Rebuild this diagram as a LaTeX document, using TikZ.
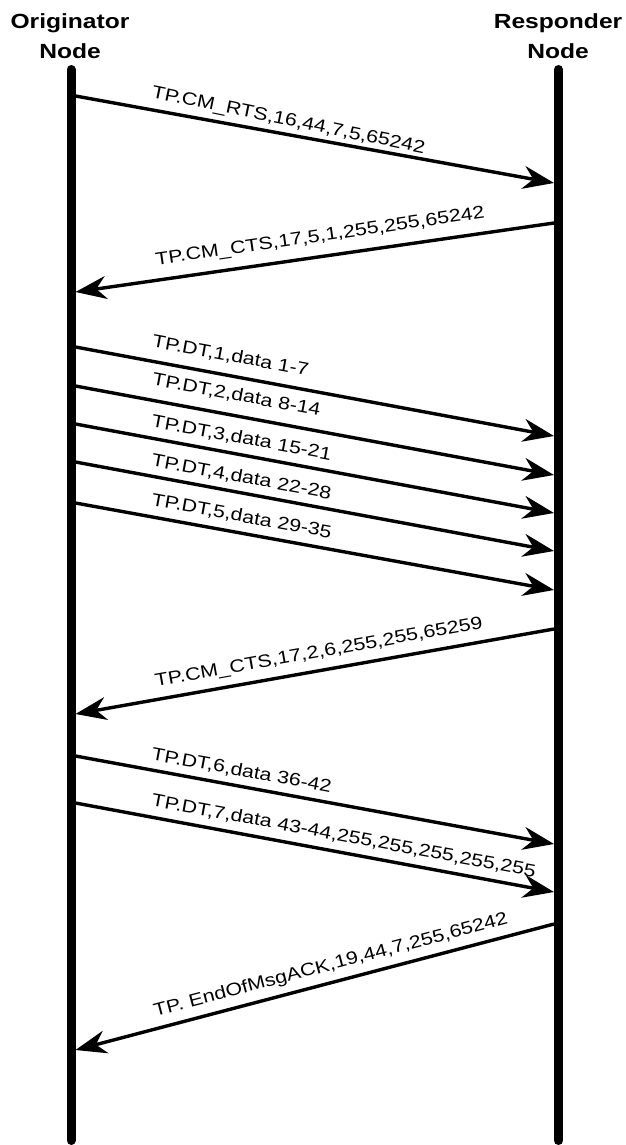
\documentclass[tikz,border=0pt]{standalone}
\usepackage{fontspec}
\setmainfont{Liberation Sans}[FakeStretch=1.2]
\usetikzlibrary{arrows.meta}
\begin{document}
\begin{tikzpicture}[x=1pt,y=-1pt,
  lifeline/.style={line width=9pt, line cap=round},
  msg/.style={line width=3.4pt, -{Stealth[length=31pt,width=23pt,inset=10pt]}},
  lbl/.style={sloped, anchor=base west, inner sep=0pt, yshift=12pt, font=\fontsize{17.8}{21}\selectfont},
  rlbl/.style={lbl, pos=0.15},
  llbl/.style={lbl, pos=0.83},
  title/.style={font=\bfseries\fontsize{20.5}{30}\selectfont, align=center, anchor=north, inner sep=0pt}]
\useasboundingbox (0,0) rectangle (626,1145);
% titles
\node[title] (orig) at (70,13) {Originator\\Node};
\node[title] (resp) at (558,13) {Responder\\Node};
% lifelines
\coordinate (Ltop) at (71,69.5);
\coordinate (Lbot) at (71,1140.5);
\coordinate (Rtop) at (558.5,69.5);
\coordinate (Rbot) at (558.5,1140.5);
\draw[lifeline] (Ltop) -- (Lbot);
\draw[lifeline] (Rtop) -- (Rbot);
% message end points
\coordinate (L1) at (75.5,96);   \coordinate (R1) at (554,183);
\coordinate (R2) at (554,223);   \coordinate (L2) at (75.5,292);
\coordinate (L3) at (75.5,347);  \coordinate (R3) at (554,436);
\coordinate (L4) at (75.5,386);  \coordinate (R4) at (554,475);
\coordinate (L5) at (75.5,424);  \coordinate (R5) at (554,513);
\coordinate (L6) at (75.5,462);  \coordinate (R6) at (554,551);
\coordinate (L7) at (75.5,503);  \coordinate (R7) at (554,590);
\coordinate (R8) at (554,629);   \coordinate (L8) at (75.5,714);
\coordinate (L9) at (75.5,756);  \coordinate (R9) at (554,844);
\coordinate (L10) at (75.5,803); \coordinate (R10) at (554,892);
\coordinate (R11) at (554,924);  \coordinate (L11) at (75.5,1050);
% messages
\draw[msg] (L1) -- node[rlbl, yshift=0pt, rotate=-1.3] (t1) {TP.CM\_RTS,16,44,7,5,65242} (R1);
\draw[msg] (R2) -- node[llbl, yshift=3pt] (t2) {TP.CM\_CTS,17,5,1,255,255,65242} (L2);
\draw[msg] (L3) -- node[rlbl, yshift=2pt] (t3) {TP.DT,1,data 1-7} (R3);
\draw[msg] (L4) -- node[rlbl, yshift=3pt] (t4) {TP.DT,2,data 8-14} (R4);
\draw[msg] (L5) -- node[rlbl, yshift=-1pt] (t5) {TP.DT,3,data 15-21} (R5);
\draw[msg] (L6) -- node[rlbl, yshift=-2pt] (t6) {TP.DT,4,data 22-28} (R6);
\draw[msg] (L7) -- node[rlbl, yshift=-1pt] (t7) {TP.DT,5,data 29-35} (R7);
\draw[msg] (R8) -- node[llbl, yshift=1pt] (t8) {TP.CM\_CTS,17,2,6,255,255,65259} (L8);
\draw[msg] (L9) -- node[rlbl, yshift=-2pt] (t9) {TP.DT,6,data 36-42} (R9);
\draw[msg] (L10) -- node[rlbl, yshift=-1pt] (t10) {TP.DT,7,data 43-44,255,255,255,255,255} (R10);
\draw[msg] (R11) -- node[llbl] (t11) {TP. EndOfMsgACK,19,44,7,255,65242} (L11);
\end{tikzpicture}
\end{document}
